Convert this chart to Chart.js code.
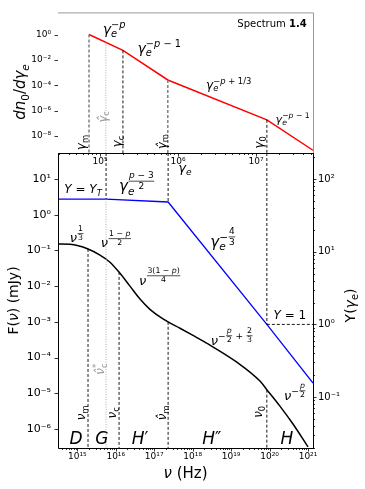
<!DOCTYPE html>
<html><head><meta charset="utf-8">
<script src="https://cdn.jsdelivr.net/npm/chart.js@4"></script>
<style>
html,body{margin:0;padding:0;background:#fff;}
#wrap{position:relative;width:365px;height:489px;}
canvas{position:absolute;left:0;top:0;}
</style></head><body>
<div id="wrap"><canvas id="bot" width="365" height="489"></canvas><canvas id="top" width="365" height="489"></canvas></div>
<script>
// top panel: electron spectrum dn0/dgamma
const gammaE = [7.24e4, 1.97e5, 7.41e5, 1.38e7, 5.37e7];
const dnDg = [1, 5.6e-2, 2.6e-4, 1.86e-7, 7.4e-10];
// bottom panel: flux F(nu) (left axis) and Compton Y (right axis)
const nuF = [3.16e14, 6.46e14, 1.9e15, 3.89e15, 7.08e15, 1.2e16, 2.34e16, 4.27e16, 7.76e16, 1.41e17,
  2.29e17, 4.68e17, 1.02e18, 2.51e18, 1.41e19, 5.62e19, 8.5e19, 1.86e20, 4.07e20, 1e21];
const fluxF = [0.151, 0.148, 0.110, 0.0741, 0.0468, 0.0251, 0.0100, 4.37e-3, 2.24e-3, 1.38e-3,
  1.0e-3, 6.61e-4, 4.17e-4, 2.40e-4, 7.41e-5, 2.19e-5, 1.26e-5, 4.37e-6, 1.38e-6, 3.16e-7];
const nuY = [3.16e14, 5.6e15, 2.3e17, 8.5e19, 1.35e21];
const comptonY = [53, 53, 48.3, 1.0, 0.156];
// break frequencies / Lorentz factors (vertical markers) and where they start
const gammaBreaks = [7.24e4, 1.19e5, 1.97e5, 7.41e5, 1.38e7];
const gammaBreakTop = [1, 0.24, 5.6e-2, 2.6e-4, 1.86e-7];
const nuBreaks = [1.9e15, 5.6e15, 1.22e16, 2.3e17, 8.5e19];
const nuBreakTop = [0.11, 2.75, 0.025, 1e-3, 1.26e-5];
const nuYBreaks = [5.6e15, 2.3e17, 8.5e19];
const nuYBreakVal = [53, 48.3, 1];
const yOne = 1;

const FAM = "'DejaVu Sans'";
const SUP = {'0':'⁰','1':'¹','2':'²','3':'³','4':'⁴','5':'⁵','6':'⁶','7':'⁷','8':'⁸','9':'⁹','-':'⁻'};
const isPow = v => Math.abs(Math.log10(v) - Math.round(Math.log10(v))) < 1e-6;
const powLabel = v => '10' + String(Math.round(Math.log10(v))).split('').map(c => SUP[c]).join('');

function logTicks(lo, hi, minor) {
  const out = [];
  for (let k = Math.floor(Math.log10(lo)); k <= Math.ceil(Math.log10(hi)); k++) {
    const subs = minor ? [1,2,3,4,5,6,7,8,9] : [1];
    for (const j of subs) {
      const v = j * Math.pow(10, k);
      if (v >= lo * 0.999 && v <= hi * 1.001) out.push({value: v});
    }
  }
  return out;
}

// --- tiny mathtext renderer ---
function fnt(size, st, ch) {
  if (st === 'b') return 'bold ' + size + 'px ' + FAM;
  if (st === 'm' && /[A-Za-z\u03b1-\u03c9]/.test(ch)) return 'italic ' + size + 'px ' + FAM;
  return size + 'px ' + FAM;
}
function run(ctx, str, x, y, size, st, draw) {
  let w = 0;
  for (const c of str.match(/.\u0302?/gu)) {
    ctx.font = fnt(size, st, c[0]);
    if (draw) ctx.fillText(c, x + w, y);
    w += ctx.measureText(c).width;
  }
  return w;
}
function layout(ctx, toks, x, y, size, draw) {
  let cx = 0, subX = null, subEnd = 0, back = false;
  for (const t of toks) {
    const k = t[0];
    if (k === 'sub') {
      subX = cx;
      cx += run(ctx, t[1], x + cx, y + size * 0.22, size * 0.7, t[2] || 'm', draw);
      subEnd = cx; back = true;
      continue;
    }
    if (k === 'sup' || k === 'frac') {
      if (back) { cx = subX; back = false; }
      if (k === 'sup') {
        cx += run(ctx, t[1], x + cx, y - size * 0.42, size * 0.7, t[2] || 'm', draw);
      } else {
        const fs = size * 0.6;
        const wn = run(ctx, t[1], 0, 0, fs, 'm', false);
        const wd = run(ctx, t[2], 0, 0, fs, 'm', false);
        const fw = Math.max(wn, wd) + 2;
        const by = y - size * 0.68;
        if (draw) {
          run(ctx, t[1], x + cx + (fw - wn) / 2, by - fs * 0.3, fs, 'm', true);
          run(ctx, t[2], x + cx + (fw - wd) / 2, by + fs * 0.85, fs, 'm', true);
          ctx.lineWidth = 0.7;
          ctx.beginPath(); ctx.moveTo(x + cx + 0.5, by); ctx.lineTo(x + cx + fw - 0.5, by); ctx.stroke();
        }
        cx += fw;
      }
      continue;
    }
    if (subX !== null) { cx = Math.max(cx, subEnd); subX = null; back = false; }
    cx += run(ctx, t[1], x + cx, y, size, t[2] || 'm', draw);
  }
  if (subX !== null) cx = Math.max(cx, subEnd);
  return cx;
}
function drawMath(ctx, toks, px, py, size, color, rot, align) {
  ctx.save();
  ctx.fillStyle = color; ctx.strokeStyle = color;
  ctx.textAlign = 'left'; ctx.textBaseline = 'alphabetic';
  ctx.translate(px, py);
  if (rot) ctx.rotate(-Math.PI / 2);
  const w = layout(ctx, toks, 0, 0, size, false);
  const x0 = align === 'right' ? -w : -w / 2;
  layout(ctx, toks, x0, size * 0.35, size, true);
  ctx.restore();
}

// --- annotations (data coordinates) ---
const topNotes = [
  {x: 10**5.18, y: 10**0.40, s: 14, t: [['n','γ'],['sub','e'],['sup','−p']]},
  {x: 10**5.76, y: 10**-1.10, s: 14, t: [['n','γ'],['sub','e'],['sup','−p − 1']]},
  {x: 10**6.65, y: 10**-3.95, s: 12, t: [['n','γ'],['sub','e'],['sup','−p + 1/3']]},
  {x: 10**7.47, y: 10**-6.65, s: 11, t: [['n','γ'],['sub','e'],['sup','−p − 1']]},
  {x: 10**7.65, y: 10**0.85, s: 10, align: 'right', t: [['n','Spectrum ','r'],['n','1.4','b']]},
  {x: 10**4.76, y: 10**-8.52, s: 12, rot: 1, t: [['n','γ'],['sub','m','r']]},
  {x: 10**5.03, y: 10**-6.50, s: 12, rot: 1, c: '#999', t: [['n','γ̂'],['sub','c','r']]},
  {x: 10**5.22, y: 10**-8.45, s: 12, rot: 1, t: [['n','γ'],['sub','c','r']]},
  {x: 10**5.79, y: 10**-8.45, s: 12, rot: 1, t: [['n','γ̂'],['sub','m','r']]},
  {x: 10**7.04, y: 10**-8.52, s: 12, rot: 1, t: [['n','γ'],['sub','0','r']]}
];
const botNotes = [
  {x: 10**17.80, y: 10**1.31, s: 13, t: [['n','γ'],['sub','e']]},
  {x: 10**15.15, y: 10**0.72, s: 12, t: [['n','Y = Y'],['sub','T']]},
  {x: 10**16.55, y: 10**0.80, s: 15, t: [['n','γ'],['sub','e'],['frac','p − 3','2']]},
  {x: 10**18.79, y: 10**-0.76, s: 15, t: [['n','γ'],['sub','e'],['sup','−'],['frac','4','3']]},
  {x: 10**20.53, y: 10**-2.81, s: 12, t: [['n','Y = 1']]},
  {x: 10**14.99, y: 10**-0.65, s: 13, t: [['n','ν'],['frac','1','3']]},
  {x: 10**16.01, y: 10**-0.79, s: 13, t: [['n','ν'],['frac','1 − p','2']]},
  {x: 10**17.15, y: 10**-1.83, s: 13, t: [['n','ν'],['frac','3(1 − p)','4']]},
  {x: 10**19.02, y: 10**-3.51, s: 13, t: [['n','ν'],['sup','−'],['frac','p','2'],['sup',' + '],['frac','2','3']]},
  {x: 10**20.66, y: 10**-5.05, s: 13, t: [['n','ν'],['sup','−'],['frac','p','2']]},
  {x: 10**15.10, y: 10**-5.55, s: 12, rot: 1, t: [['n','ν'],['sub','m','r']]},
  {x: 10**15.59, y: 10**-4.32, s: 12, rot: 1, c: '#999', t: [['n','ν̂'],['sub','c','r'],['sup','*','r']]},
  {x: 10**15.90, y: 10**-5.55, s: 12, rot: 1, t: [['n','ν'],['sub','c','r']]},
  {x: 10**17.20, y: 10**-5.55, s: 12, rot: 1, t: [['n','ν̂'],['sub','m','r']]},
  {x: 10**19.70, y: 10**-5.52, s: 12, rot: 1, t: [['n','ν'],['sub','0','r']]},
  {x: 10**14.97, y: 10**-6.25, s: 17, t: [['n','D']]},
  {x: 10**15.64, y: 10**-6.25, s: 17, t: [['n','G']]},
  {x: 10**16.63, y: 10**-6.25, s: 17, t: [['n','H′']]},
  {x: 10**18.50, y: 10**-6.25, s: 17, t: [['n','H″']]},
  {x: 10**20.45, y: 10**-6.25, s: 17, t: [['n','H']]}
];

function vline(ctx, x, y0, y1, color, dash, lw) {
  ctx.save();
  ctx.strokeStyle = color; ctx.lineWidth = lw; ctx.setLineDash(dash);
  ctx.beginPath(); ctx.moveTo(x, y0); ctx.lineTo(x, y1); ctx.stroke();
  ctx.restore();
}

const tickPlugin = {
  id: 'tickMarks',
  afterDraw(chart) {
    const ctx = chart.ctx;
    ctx.save(); ctx.strokeStyle = '#000'; ctx.lineWidth = 0.8;
    for (const id of Object.keys(chart.scales)) {
      const s = chart.scales[id];
      for (const t of s.ticks) {
        const p = Math.round(s.getPixelForValue(t.value)) + 0.5;
        const len = isPow(t.value) ? 3.5 : 2;
        ctx.beginPath();
        if (s.position === 'bottom') { ctx.moveTo(p, s.top); ctx.lineTo(p, s.top + len); }
        else if (s.position === 'left') { ctx.moveTo(s.right, p); ctx.lineTo(s.right - len, p); }
        else { ctx.moveTo(s.left, p); ctx.lineTo(s.left + len, p); }
        ctx.stroke();
      }
    }
    ctx.restore();
  }
};

function notesPlugin(notes, yid) {
  return {
    id: 'notes',
    afterDraw(chart) {
      const sx = chart.scales.x, sy = chart.scales[yid];
      for (const n of notes) {
        drawMath(chart.ctx, n.t, sx.getPixelForValue(n.x), sy.getPixelForValue(n.y), n.s, n.c || '#000', n.rot, n.align);
      }
    }
  };
}

const tickFont = s => ({family: 'DejaVu Sans', size: s});

// ---------------- top chart ----------------
const topX = [10**4.462, 10**7.731], topY = [10**-9.348, 10**1.747];
new Chart(document.getElementById('top'), {
  type: 'line',
  data: {datasets: [{
    data: gammaE.map((g, i) => ({x: g, y: dnDg[i]})),
    borderColor: '#ff0000', borderWidth: 1.5, pointRadius: 0, tension: 0
  }]},
  options: {
    responsive: false, animation: false, devicePixelRatio: 1, events: [],
    layout: {padding: {top: 5, right: 52, left: 0, bottom: 0}},
    plugins: {legend: {display: false}, tooltip: {enabled: false}},
    scales: {
      x: {type: 'logarithmic', min: topX[0], max: topX[1],
        afterFit: s => { s.height = 336; },
        afterBuildTicks: s => { s.ticks = logTicks(topX[0], topX[1], true); },
        grid: {display: false, drawTicks: false}, border: {display: false},
        ticks: {autoSkip: false, maxRotation: 0, padding: 3, color: '#000', font: tickFont(9),
          callback: v => isPow(v) ? powLabel(v) : ''}},
      y: {type: 'logarithmic', min: topY[0], max: topY[1],
        afterFit: s => { s.width = 58; },
        afterBuildTicks: s => { s.ticks = [1, 1e-2, 1e-4, 1e-6, 1e-8].map(v => ({value: v})); },
        grid: {display: false, drawTicks: false}, border: {display: false},
        ticks: {autoSkip: false, padding: 7, color: '#000', font: tickFont(9),
          callback: v => powLabel(v)}}
    }
  },
  plugins: [tickPlugin, {
    id: 'topMarks',
    afterDatasetsDraw(chart) {
      const ctx = chart.ctx, sx = chart.scales.x, sy = chart.scales.y, a = chart.chartArea;
      const st = [['#777', [3, 2], 1.4], ['#999', [1, 1.5], 0.8], ['#000', [3, 2], 0.9], ['#777', [3, 2], 1.4], ['#000', [3, 2], 0.9]];
      gammaBreaks.forEach((g, i) => {
        vline(ctx, sx.getPixelForValue(g), sy.getPixelForValue(gammaBreakTop[i]), a.bottom, st[i][0], st[i][1], st[i][2]);
      });
    },
    afterDraw(chart) {
      const ctx = chart.ctx, a = chart.chartArea;
      ctx.save();
      ctx.lineWidth = 1; ctx.strokeStyle = '#999';
      ctx.beginPath(); ctx.moveTo(a.left, a.top + 0.5); ctx.lineTo(a.right + 0.5, a.top + 0.5); ctx.lineTo(a.right + 0.5, a.bottom); ctx.stroke();
      ctx.strokeStyle = '#000';
      ctx.beginPath(); ctx.moveTo(a.left, a.bottom + 0.5); ctx.lineTo(a.right + 0.5, a.bottom + 0.5); ctx.stroke();
      ctx.restore();
      drawMath(ctx, [['n','dn'],['sub','0'],['n','/dγ'],['sub','e']], a.left - 38, 92, 15, '#000', 1);
    }
  }, notesPlugin(topNotes, 'y')]
});

// ---------------- bottom chart ----------------
const botX = [10**14.498, 10**21.13], botF = [10**-6.533, 10**1.728], botY = [10**-1.70, 10**2.358];
new Chart(document.getElementById('bot'), {
  type: 'line',
  data: {datasets: [
    {data: nuF.map((v, i) => ({x: v, y: fluxF[i]})), yAxisID: 'y',
      borderColor: '#000', borderWidth: 1.5, pointRadius: 0, cubicInterpolationMode: 'monotone'},
    {data: nuY.map((v, i) => ({x: v, y: comptonY[i]})), yAxisID: 'y2',
      borderColor: '#0000ff', borderWidth: 1.3, pointRadius: 0, tension: 0}
  ]},
  options: {
    responsive: false, animation: false, devicePixelRatio: 1, events: [],
    layout: {padding: {top: 153, right: 0, left: 0, bottom: 0}},
    plugins: {legend: {display: false}, tooltip: {enabled: false}},
    scales: {
      x: {type: 'logarithmic', min: botX[0], max: botX[1],
        afterFit: s => { s.height = 41; },
        afterBuildTicks: s => { s.ticks = logTicks(botX[0], botX[1], true); },
        grid: {display: false, drawTicks: false}, border: {display: false},
        ticks: {autoSkip: false, maxRotation: 0, padding: 3, color: '#000', font: tickFont(9),
          callback: v => isPow(v) ? powLabel(v) : ''}},
      y: {type: 'logarithmic', position: 'left', min: botF[0], max: botF[1],
        afterFit: s => { s.width = 58; },
        afterBuildTicks: s => { s.ticks = logTicks(botF[0], botF[1], false); },
        grid: {display: false, drawTicks: false}, border: {display: false},
        ticks: {autoSkip: false, padding: 7, color: '#000', font: tickFont(11),
          callback: v => powLabel(v)}},
      y2: {type: 'logarithmic', position: 'right', min: botY[0], max: botY[1],
        afterFit: s => { s.width = 52; },
        afterBuildTicks: s => { s.ticks = logTicks(botY[0], botY[1], true); },
        grid: {display: false, drawTicks: false}, border: {display: false},
        ticks: {autoSkip: false, padding: 5, color: '#000', font: tickFont(10),
          callback: v => isPow(v) ? powLabel(v) : ''}}
    }
  },
  plugins: [tickPlugin, {
    id: 'botMarks',
    afterDatasetsDraw(chart) {
      const ctx = chart.ctx, sx = chart.scales.x, sf = chart.scales.y, sy = chart.scales.y2, a = chart.chartArea;
      nuBreaks.forEach((v, i) => {
        const gray = i === 1;
        vline(ctx, sx.getPixelForValue(v), sf.getPixelForValue(nuBreakTop[i]), a.bottom,
          gray ? '#999' : '#000', gray ? [1, 1.5] : [3, 2], gray ? 0.8 : 0.9);
      });
      nuYBreaks.forEach((v, i) => {
        vline(ctx, sx.getPixelForValue(v), a.top, sy.getPixelForValue(nuYBreakVal[i]), '#000', [3, 2], 0.9);
      });
      ctx.save();
      ctx.strokeStyle = '#000'; ctx.lineWidth = 0.9; ctx.setLineDash([3, 2]);
      const py = sy.getPixelForValue(yOne);
      ctx.beginPath(); ctx.moveTo(sx.getPixelForValue(nuYBreaks[2]), py); ctx.lineTo(a.right, py); ctx.stroke();
      ctx.restore();
    },
    afterDraw(chart) {
      const ctx = chart.ctx, a = chart.chartArea;
      ctx.save();
      ctx.lineWidth = 1; ctx.strokeStyle = '#000';
      ctx.beginPath();
      ctx.moveTo(a.left + 0.5, a.top); ctx.lineTo(a.left + 0.5, a.bottom + 0.5);
      ctx.lineTo(a.right + 0.5, a.bottom + 0.5); ctx.lineTo(a.right + 0.5, a.top);
      ctx.stroke();
      ctx.restore();
      drawMath(ctx, [['n','F(','r'],['n','ν'],['n',') (mJy)','r']], a.left - 45, (a.top + a.bottom) / 2, 14, '#000', 1);
      drawMath(ctx, [['n','Y(','r'],['n','γ'],['sub','e','r'],['n',')','r']], a.right + 37, (a.top + a.bottom) / 2 + 5, 14, '#000', 1);
      drawMath(ctx, [['n','ν'],['n',' (Hz)','r']], (a.left + a.right) / 2, a.bottom + 25, 15, '#000');
    }
  }, notesPlugin(botNotes, 'y')]
});
</script>
</body></html>
